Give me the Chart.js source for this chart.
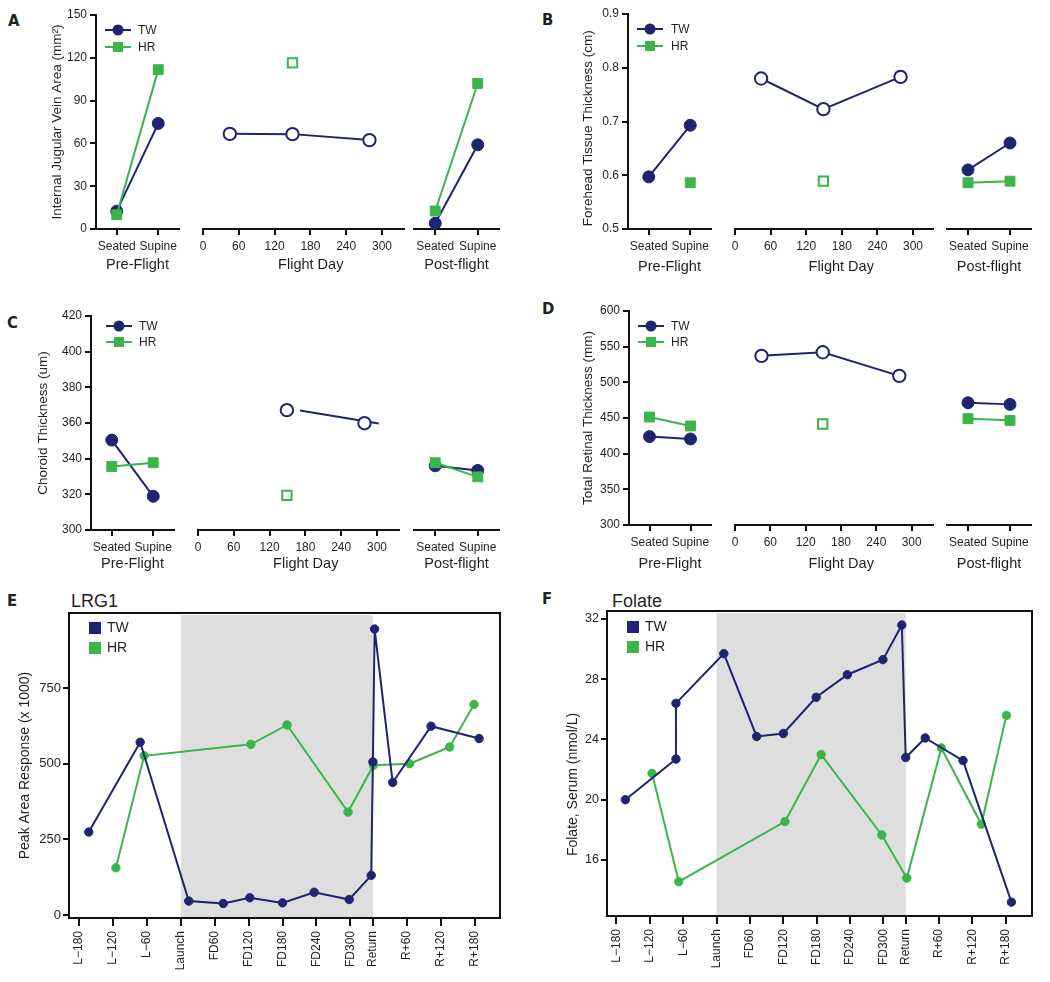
<!DOCTYPE html>
<html>
<head>
<meta charset="utf-8">
<script src="https://cdn.jsdelivr.net/npm/chart.js@4.4.0/dist/chart.umd.min.js"></script>
<style>
  body { margin: 0; background: #fff; }
  #fig { position: relative; width: 1050px; height: 982px; background: #fff; color: #231f20;
         font-family: "Liberation Sans", Arial, sans-serif; overflow: hidden; }
  #fig canvas { position: absolute; }
  .tag { position: absolute; font-family: "DejaVu Sans Condensed", "DejaVu Sans", sans-serif;
         font-weight: bold; font-size: 16.5px; line-height: 1; }
  .ttl { position: absolute; font-size: 18px; line-height: 1; }
</style>
</head>
<body>
<div id="fig">
  <div class="tag" style="left:8px;top:13px">A</div>
  <div class="tag" style="left:542px;top:12px">B</div>
  <div class="tag" style="left:7px;top:315px">C</div>
  <div class="tag" style="left:542px;top:301px">D</div>
  <div class="tag" style="left:7px;top:593px">E</div>
  <div class="tag" style="left:542px;top:591px">F</div>
  <div class="ttl" style="left:71px;top:592px">LRG1</div>
  <div class="ttl" style="left:612px;top:592px">Folate</div>
</div>
<script>
// ---- data ----
const seriesNames = ['TW', 'HR'];
const postureLabels = ['Seated', 'Supine'];
const flightDayTicks = [0, 60, 120, 180, 240, 300];

// A: internal jugular vein area
const aTicks = [0, 30, 60, 90, 120, 150];
const aPreTW = [12.5, 74];
const aPreHR = [10, 111.7];
const aFlightDays = [45, 150, 279];
const aFlightTW = [66.7, 66.5, 62.3];
const aFlightHRDays = [150];
const aFlightHR = [116.4];
const aPostTW = [4, 59];
const aPostHR = [12.6, 102];

// B: forehead tissue thickness
const bTicks = [0.5, 0.6, 0.7, 0.8, 0.9];
const bPreTW = [0.597, 0.693];
const bPreHR = [null, 0.586];
const bFlightDays = [44, 149, 279];
const bFlightTW = [0.780, 0.723, 0.783];
const bFlightHRDays = [149];
const bFlightHR = [0.589];
const bPostTW = [0.610, 0.660];
const bPostHR = [0.586, 0.589];

// C: choroid thickness
const cTicks = [300, 320, 340, 360, 380, 400, 420];
const cPreTW = [350.4, 318.9];
const cPreHR = [335.6, 337.7];
const cFlightDays = [149, 279];
const cFlightTW = [367.2, 359.9];
const cTrendDays = [171, 303];
const cTrendTW = [367.0, 359.7];
const cFlightHRDays = [149];
const cFlightHR = [319.4];
const cPostTW = [336.0, 333.4];
const cPostHR = [337.7, 329.8];

// D: total retinal thickness
const dTicks = [300, 350, 400, 450, 500, 550, 600];
const dPreTW = [423.9, 420.6];
const dPreHR = [451.4, 438.8];
const dFlightDays = [45, 149, 279];
const dFlightTW = [537.1, 542.2, 509.1];
const dFlightHRDays = [149];
const dFlightHR = [441.6];
const dPostTW = [471.4, 469.1];
const dPostHR = [449.1, 446.7];

// E / F: mission time course
const missionTickDays = [-180, -120, -60, 0, 60, 120, 180, 240, 300, 340, 400, 460, 520];
const missionTickLabels = ['L\u2212180', 'L\u2212120', 'L\u221260', 'Launch', 'FD60', 'FD120', 'FD180',
  'FD240', 'FD300', 'Return', 'R+60', 'R+120', 'R+180'];
const flightSpan = [0, 340];

const eTicks = [0, 250, 500, 750];
const eTWDays = [-163, -72, 14, 75, 122, 180, 236, 298, 337, 340, 343, 375, 443, 528];
const eTW = [274, 571, 46, 38, 57, 40, 75, 51, 131, 506, 945, 438, 624, 583];
const eHRDays = [-115, -65, 124, 188, 296, 341, 405, 476, 519];
const eHR = [156, 526, 564, 628, 340, 495, 500, 555, 696];

const fTicks = [16, 20, 24, 28, 32];
const fTWDays = [-164, -73, -73, 13, 72, 120, 179, 235, 299, 333, 340, 375, 443, 530];
const fTW = [20.0, 22.7, 26.4, 29.7, 24.2, 24.4, 26.8, 28.3, 29.3, 31.6, 22.8, 24.1, 22.6, 13.2];
const fHRDays = [-116, -68, 123, 188, 297, 342, 404, 476, 521];
const fHR = [21.75, 14.56, 18.55, 23.0, 17.66, 14.8, 23.44, 18.37, 25.6];

// ---- styling ----
const navy = '#1f2470';
const green = '#3bb54a';
const ink = '#231f20';
Chart.defaults.font.family = '"Liberation Sans", Arial, sans-serif';
Chart.defaults.color = ink;

const fig = document.getElementById('fig');
function canvasAt(left, top, width, height) {
  const c = document.createElement('canvas');
  c.width = width; c.height = height;
  c.style.left = left + 'px'; c.style.top = top + 'px';
  c.style.width = width + 'px'; c.style.height = height + 'px';
  fig.appendChild(c);
  return c;
}
const pts = (xs, ys) => xs.map((x, i) => ({x, y: ys[i]}));
const fixedTicks = vals => s => { s.ticks = vals.map(v => ({value: v})); };

// legend drawn inside the plot corner
const cornerLegend = {
  id: 'cornerLegend',
  afterDraw(chart, args, o) {
    if (!o.items) return;
    const {ctx, chartArea} = chart;
    ctx.save();
    o.items.forEach((it, i) => {
      const x = chartArea.left + o.x;
      const y = chartArea.top + o.y + i * o.gap;
      ctx.fillStyle = it.color;
      if (o.box) {
        ctx.fillRect(x - 6, y - 6, 12, 12);
      } else {
        ctx.strokeStyle = it.color;
        ctx.lineWidth = 2;
        ctx.beginPath(); ctx.moveTo(x - 13, y); ctx.lineTo(x + 13, y); ctx.stroke();
        if (it.shape === 'circle') {
          ctx.beginPath(); ctx.arc(x, y, 5.5, 0, Math.PI * 2); ctx.fill();
        } else {
          ctx.fillRect(x - 5, y - 5, 10, 10);
        }
      }
      ctx.fillStyle = ink;
      ctx.font = o.font;
      ctx.textBaseline = 'middle';
      ctx.textAlign = 'left';
      ctx.fillText(it.text, x + o.textDx, y + 0.5);
    });
    ctx.restore();
  }
};

// grey in-flight band and the box frame
const missionFrame = {
  id: 'missionFrame',
  beforeDatasetsDraw(chart, args, o) {
    const {ctx, chartArea: ca, scales: {x}} = chart;
    const x0 = x.getPixelForValue(o.span[0]);
    const x1 = x.getPixelForValue(o.span[1]);
    ctx.save();
    ctx.fillStyle = '#dedede';
    ctx.fillRect(x0, ca.top + 2, x1 - x0, ca.height - 3);
    ctx.restore();
  },
  afterDraw(chart) {
    const {ctx, chartArea: ca} = chart;
    ctx.save();
    ctx.strokeStyle = '#111';
    ctx.lineWidth = 2;
    ctx.strokeRect(ca.left, ca.top, ca.width, ca.height);
    ctx.restore();
  }
};

const baseOpts = {responsive: false, animation: false, events: []};
const noPlugins = {legend: {display: false}, tooltip: {enabled: false}};

function solid(label, data, color, shape) {
  const sq = shape === 'rect';
  return {label, data, borderColor: color, backgroundColor: color, borderWidth: 2,
    pointStyle: shape, pointRadius: sq ? 7 : 6, pointBorderWidth: 1,
    pointBackgroundColor: color, pointBorderColor: color, spanGaps: true, clip: false, order: sq ? 0 : 1};
}
function hollow(label, data, color, shape, join) {
  const sq = shape === 'rect';
  return {label, data, showLine: join, borderColor: color, backgroundColor: '#fff', borderWidth: 2,
    pointStyle: shape, pointRadius: sq ? 6.6 : 6.2, pointBorderWidth: 2,
    pointBackgroundColor: '#fff', pointBorderColor: color, clip: false, order: 1};
}

function triple(p) {
  const canvasTop = p.top - 12;
  const xH = Math.round(p.titleDy + 8.7);
  const H = p.bottom - canvasTop + xH;
  const xAxis = (title, extra) => Object.assign({
    border: {display: true, color: '#111', width: 2},
    grid: {display: true, drawOnChartArea: false, drawTicks: true, tickLength: 6,
      color: '#111', lineWidth: 2, offset: false},
    ticks: {font: {size: 12}, color: ink, padding: 4, maxRotation: 0, autoSkip: false},
    title: {display: true, text: title, font: {size: 14.5}, color: ink, padding: 0},
    afterFit: s => { s.height = xH; }
  }, extra);
  const yHidden = {display: false, min: p.yMin, max: p.yMax};
  const padL = p.yTitleX - p.left - 8.1;

  new Chart(canvasAt(p.left, canvasTop, p.preR + 6 - p.left, H), {
    type: 'line',
    data: {labels: postureLabels, datasets: [
      solid(seriesNames[0], p.preTW, navy, 'circle'),
      solid(seriesNames[1], p.preHR, green, 'rect')
    ]},
    options: Object.assign({}, baseOpts, {
      layout: {padding: {left: padL, right: 6, top: 12, bottom: 0}},
      scales: {
        x: xAxis('Pre-Flight', {offset: true}),
        y: {
          min: p.yMin, max: p.yMax,
          afterBuildTicks: fixedTicks(p.yTicks),
          border: {display: true, color: '#111', width: 2},
          grid: {display: true, drawOnChartArea: false, drawTicks: true, tickLength: 6, color: '#111', lineWidth: 2},
          ticks: {font: {size: 12}, color: ink, padding: 3, callback: p.fmt},
          title: {display: true, text: p.yTitle, font: {size: 13.5}, color: ink, padding: 0},
          afterFit: s => { s.width = p.axisL - p.left - padL; }
        }
      },
      plugins: Object.assign({}, noPlugins, {cornerLegend: Object.assign({
        font: '12px "Liberation Sans", Arial, sans-serif', box: false,
        items: [{text: seriesNames[0], color: navy, shape: 'circle'},
                {text: seriesNames[1], color: green, shape: 'rect'}]
      }, p.legend)})
    }),
    plugins: [cornerLegend]
  });

  const flDatasets = [
    hollow(seriesNames[0], pts(p.flDays, p.flTW), navy, 'circle', !p.trendDays),
    hollow(seriesNames[1], pts(p.flHRDays, p.flHR), green, 'rect', false)
  ];
  if (p.trendDays) {
    flDatasets.push({label: seriesNames[0], data: pts(p.trendDays, p.trendTW), showLine: true,
      borderColor: navy, borderWidth: 2, pointRadius: 0, clip: false, order: 2});
  }
  new Chart(canvasAt(p.flL - 10, canvasTop, p.flR - p.flL + 20, H), {
    type: 'scatter',
    data: {datasets: flDatasets},
    options: Object.assign({}, baseOpts, {
      layout: {padding: {left: 10, right: 10, top: 12, bottom: 0}},
      scales: {
        x: xAxis('\u2003Flight Day', {type: 'linear', min: 0, max: p.flMax,
          afterBuildTicks: fixedTicks(flightDayTicks)}),
        y: yHidden
      },
      plugins: noPlugins
    })
  });

  new Chart(canvasAt(p.postL - 10, canvasTop, p.postR - p.postL + 20, H), {
    type: 'line',
    data: {labels: postureLabels, datasets: [
      solid(seriesNames[0], p.postTW, navy, 'circle'),
      solid(seriesNames[1], p.postHR, green, 'rect')
    ]},
    options: Object.assign({}, baseOpts, {
      layout: {padding: {left: 10, right: 10, top: 12, bottom: 0}},
      scales: {x: xAxis('Post-flight', {offset: true}), y: yHidden},
      plugins: noPlugins
    })
  });
}

const intFmt = v => String(Math.round(v));

triple({top: 15, bottom: 229, titleDy: 36, left: 0, yTitleX: 57, axisL: 96, preR: 181,
  flL: 203, flR: 404, flMax: 336.9, postL: 414, postR: 499,
  yMin: 0, yMax: 150, yTicks: aTicks, fmt: intFmt, yTitle: 'Internal Jugular Vein Area (mm\u00b2)',
  preTW: aPreTW, preHR: aPreHR, flDays: aFlightDays, flTW: aFlightTW,
  flHRDays: aFlightHRDays, flHR: aFlightHR, postTW: aPostTW, postHR: aPostHR,
  legend: {x: 22, y: 15, gap: 17, textDx: 20}});

triple({top: 14, bottom: 229, titleDy: 38, left: 520, yTitleX: 588, axisL: 628, preR: 713,
  flL: 735, flR: 933, flMax: 333.7, postL: 947, postR: 1031,
  yMin: 0.5, yMax: 0.9, yTicks: bTicks, fmt: v => v.toFixed(1), yTitle: 'Forehead Tissue Thickness (cm)\u2002\u2002',
  preTW: bPreTW, preHR: bPreHR, flDays: bFlightDays, flTW: bFlightTW,
  flHRDays: bFlightHRDays, flHR: bFlightHR, postTW: bPostTW, postHR: bPostHR,
  legend: {x: 22, y: 15, gap: 17, textDx: 21}});

triple({top: 316, bottom: 530, titleDy: 34, left: 0, yTitleX: 43, axisL: 91, preR: 176,
  flL: 198, flR: 399, flMax: 336.9, postL: 414, postR: 499,
  yMin: 300, yMax: 420, yTicks: cTicks, fmt: intFmt, yTitle: 'Choroid Thickness (um)',
  preTW: cPreTW, preHR: cPreHR, flDays: cFlightDays, flTW: cFlightTW,
  trendDays: cTrendDays, trendTW: cTrendTW,
  flHRDays: cFlightHRDays, flHR: cFlightHR, postTW: cPostTW, postHR: cPostHR,
  legend: {x: 28, y: 10, gap: 16, textDx: 20}});

triple({top: 311, bottom: 525, titleDy: 39, left: 520, yTitleX: 588, axisL: 629, preR: 713,
  flL: 735, flR: 933, flMax: 336.2, postL: 947, postR: 1031,
  yMin: 300, yMax: 600, yTicks: dTicks, fmt: intFmt, yTitle: 'Total Retinal Thickness (mm)',
  preTW: dPreTW, preHR: dPreHR, flDays: dFlightDays, flTW: dFlightTW,
  flHRDays: dFlightHRDays, flHR: dFlightHR, postTW: dPostTW, postHR: dPostHR,
  legend: {x: 22, y: 15, gap: 16, textDx: 20}});

function mission(p) {
  const padL = p.yTitleX - p.left - 8.4;
  const line = (label, data, color) => ({label, data, showLine: true, borderColor: color,
    backgroundColor: color, pointBackgroundColor: color, pointBorderColor: color,
    borderWidth: 2, pointRadius: 4.2, pointBorderWidth: 1, clip: false});
  new Chart(canvasAt(p.left, p.top, p.width, p.height), {
    type: 'scatter',
    data: {datasets: [
      line(seriesNames[0], pts(p.twDays, p.tw), navy),
      line(seriesNames[1], pts(p.hrDays, p.hr), green)
    ]},
    options: Object.assign({}, baseOpts, {
      layout: {padding: {left: padL, right: p.left + p.width - p.areaR, top: p.areaT - p.top, bottom: 0}},
      scales: {
        x: {
          type: 'linear', min: p.xMin, max: p.xMax,
          afterBuildTicks: fixedTicks(missionTickDays),
          border: {display: true, color: '#111', width: 2},
          grid: {display: true, drawOnChartArea: false, drawTicks: true, tickLength: 8, color: '#111', lineWidth: 2},
          ticks: {font: {size: 12}, color: ink, padding: 5, autoSkip: false, minRotation: 90, maxRotation: 90,
            callback: (v, i) => missionTickLabels[i]},
          afterFit: s => { s.height = p.top + p.height - p.areaB; }
        },
        y: {
          min: p.yMin, max: p.yMax,
          afterBuildTicks: fixedTicks(p.yTicks),
          border: {display: true, color: '#111', width: 2},
          grid: {display: true, drawOnChartArea: false, drawTicks: true, tickLength: 6, color: '#111', lineWidth: 2},
          ticks: {font: {size: p.tickSize}, color: ink, padding: 2},
          title: {display: true, text: p.yTitle, font: {size: 14}, color: ink, padding: 0},
          afterFit: s => { s.width = p.areaL - p.left - padL; }
        }
      },
      plugins: Object.assign({}, noPlugins, {
        missionFrame: {span: flightSpan},
        cornerLegend: {x: 26, y: p.legendY, gap: 20, textDx: 12, box: true,
          font: '14px "Liberation Sans", Arial, sans-serif',
          items: [{text: seriesNames[0], color: navy}, {text: seriesNames[1], color: green}]}
      })
    }),
    plugins: [missionFrame, cornerLegend]
  });
}

mission({left: 0, top: 580, width: 520, height: 402, areaL: 69, areaR: 500, areaT: 613, areaB: 918,
  yTitleX: 25, xMin: -198, xMax: 565, yMin: -10, yMax: 998, yTicks: eTicks, tickSize: 13,
  yTitle: 'Peak Area Response (x 1000)', twDays: eTWDays, tw: eTW, hrDays: eHRDays, hr: eHR, legendY: 15});

mission({left: 520, top: 580, width: 530, height: 402, areaL: 607, areaR: 1032, areaT: 611, areaB: 916,
  yTitleX: 573, xMin: -197, xMax: 567, yMin: 12.28, yMax: 32.53, yTicks: fTicks, tickSize: 12.5,
  yTitle: 'Folate, Serum (nmol/L)\u2003\u2003\u2003', twDays: fTWDays, tw: fTW, hrDays: fHRDays, hr: fHR, legendY: 16});
</script>
</body>
</html>
